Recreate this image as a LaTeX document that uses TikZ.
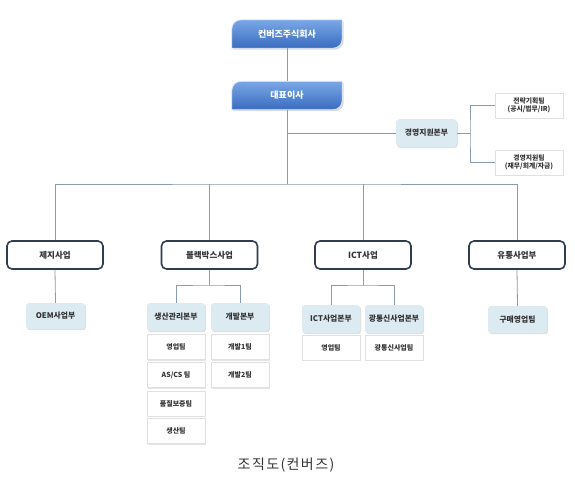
\documentclass[tikz,border=0pt]{standalone}
\usepackage{fontspec}
\setmainfont{Noto Sans CJK KR}
\usetikzlibrary{shadows}
\definecolor{lineC}{HTML}{8A9BAB}
\definecolor{topA}{HTML}{7AA6E6}
\definecolor{topB}{HTML}{3A6DC0}
\definecolor{lvTwo}{HTML}{2E3D4F}
\definecolor{lightB}{HTML}{DCEAF2}
\definecolor{txtC}{HTML}{333333}
\tikzset{
  conn/.style={draw=lineC, line width=0.8pt},
  topbox/.style={minimum width=110pt, minimum height=28pt, inner sep=0pt, text=white, font=\bfseries\fontsize{9}{10}\selectfont},
  divbox/.style={draw=lvTwo, line width=1.6pt, fill=white, rounded corners=5pt, minimum width=96pt, minimum height=28pt, inner sep=0pt, text=txtC, font=\bfseries\fontsize{8.5}{9}\selectfont},
  bluebox/.style={fill=lightB, rounded corners=3pt, minimum width=58pt, minimum height=27pt, inner sep=0pt, text=txtC, font=\bfseries\fontsize{7.8}{8}\selectfont, drop shadow={opacity=0.25, shadow xshift=1pt, shadow yshift=-1.2pt}},
  teambox/.style={fill=white, draw=black!12, minimum width=58pt, minimum height=25pt, inner sep=0pt, text=txtC, font=\bfseries\fontsize{7}{7.5}\selectfont, drop shadow={opacity=0.2, shadow xshift=1pt, shadow yshift=-1pt}},
  subbox/.style={fill=white, draw=black!12, minimum width=68pt, minimum height=25pt, inner sep=0pt, text=txtC, align=center, font=\bfseries\fontsize{6.8}{8}\selectfont, drop shadow={opacity=0.2, shadow xshift=1pt, shadow yshift=-1pt}},
  topshape/.style={top color=topA, bottom color=topB, draw=white!85!topB, line width=0.8pt, drop shadow={opacity=0.3, shadow xshift=1.5pt, shadow yshift=-1.5pt}}
}
\begin{document}
\begin{tikzpicture}[x=1pt,y=1pt]
\useasboundingbox[fill=white] (0,0) rectangle (575,-488);

% top boxes (text nodes) -------------------------------------------
\node[topbox] (c1) at (287,-34) {};
\node[topbox] (c2) at (287,-95.5) {};
\path[topshape] (c1.south west) -- ([yshift=-9pt]c1.north west) arc[start angle=180,end angle=90,radius=9pt] -- (c1.north east) -- ([yshift=9pt]c1.south east) arc[start angle=0,end angle=-90,radius=9pt] -- cycle;
\path[topshape] (c2.south west) -- ([yshift=-9pt]c2.north west) arc[start angle=180,end angle=90,radius=9pt] -- (c2.north east) -- ([yshift=9pt]c2.south east) arc[start angle=0,end angle=-90,radius=9pt] -- cycle;
\node[topbox] at (c1) {컨버즈주식회사};
\node[topbox] at (c2) {대표이사};

% management branch -----------------------------------------------
\node[bluebox, minimum width=61pt, minimum height=28pt, rounded corners=4pt] (mg) at (426.5,-133) {경영지원본부};
\node[subbox] (s1) at (529,-105.5) {전략기획팀\\(공시/법무/IR)};
\node[subbox] (s2) at (529,-162.5) {경영지원팀\\(재무/회계/자금)};

% divisions ----------------------------------------------------------
\node[divbox] (d1) at (55,-255) {제지사업};
\node[divbox] (d2) at (209.5,-255) {블랙박스사업};
\node[divbox] (d3) at (363,-255) {ICT사업};
\node[divbox] (d4) at (517,-255) {유통사업부};

% level 3 ------------------------------------------------------------
\node[bluebox, minimum width=59pt, minimum height=26pt] (o1) at (55.5,-316) {OEM사업부};
\node[bluebox, minimum height=28pt] (b1) at (176,-317) {생산관리본부};
\node[bluebox, minimum height=28pt] (b2) at (240,-317) {개발본부};
\node[bluebox, minimum height=28pt] (i1) at (331,-319) {ICT사업본부};
\node[bluebox, minimum height=28pt] (i2) at (394,-319) {광통신사업본부};
\node[bluebox, minimum width=59pt] (u1) at (517.5,-319.5) {구매영업팀};

% teams --------------------------------------------------------------
\node[teambox] (t1) at (176,-347) {영업팀};
\node[teambox] (t2) at (176,-375) {AS/CS 팀};
\node[teambox] (t3) at (176,-403.5) {품질보증팀};
\node[teambox] (t4) at (176,-431) {생산팀};
\node[teambox] (t5) at (240,-347) {개발1팀};
\node[teambox] (t6) at (240,-375) {개발2팀};
\node[teambox] (t7) at (331,-347.5) {영업팀};
\node[teambox] (t8) at (394,-347.5) {광통신사업팀};

% junction coordinates -------------------------------------------------
\coordinate (jm) at (287,-133);
\coordinate (jh) at (287,-184);
\coordinate (jr) at (470,-133);
\coordinate (bb) at (209.5,-285);
\coordinate (ib) at (363,-285);

% connectors -----------------------------------------------------------
\draw[conn] (c1.south) -- (c2.north);
\draw[conn] (c2.south) -- (jh);
\draw[conn] (jm) -- (mg.west);
\draw[conn] (mg.east) -- (jr);
\draw[conn] (s1.west) -| (jr) |- (s2.west);
\draw[conn] (d1.north) |- (jh) -| (d4.north);
\draw[conn] (d2.north) -- (d2.north |- jh);
\draw[conn] (d3.north) -- (d3.north |- jh);
\draw[conn] (d1.south) -- (o1.north);
\draw[conn] (d4.south) -- (u1.north);
\draw[conn] (d2.south) -- (bb);
\draw[conn] (b1.north) |- (bb) -| (b2.north);
\draw[conn] (d3.south) -- (ib);
\draw[conn] (i1.north) |- (ib) -| (i2.north);

% caption --------------------------------------------------------------
\node[inner sep=0pt, text=black!80, font=\fontsize{14}{16}\selectfont\addfontfeatures{LetterSpace=10}] (cap) at (286,-465) {조직도(컨버즈)};
\end{tikzpicture}
\end{document}
